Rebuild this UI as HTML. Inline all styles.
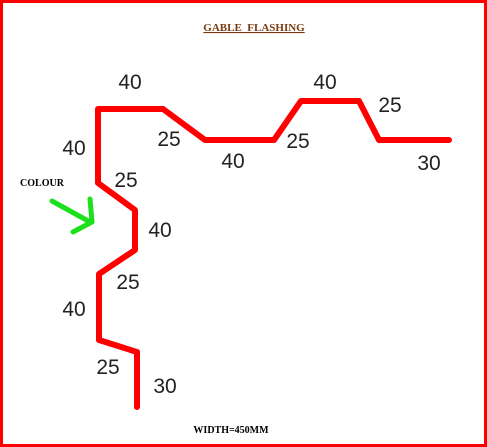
<!DOCTYPE html>
<html><head><meta charset="utf-8"><style>
html,body{margin:0;padding:0;background:#fff}
svg{display:block}
.d{font-family:"Liberation Sans",sans-serif;font-size:21px;fill:#222;text-anchor:middle;font-weight:300}
</style></head><body>
<svg width="487" height="447" viewBox="0 0 487 447">
<rect x="1.5" y="1.5" width="484" height="444" fill="#fff" stroke="#f00" stroke-width="3"/>
<text x="254" y="31" font-family="Liberation Serif,serif" font-weight="bold" font-size="11" fill="#7a3a10" text-anchor="middle" text-decoration="underline">GABLE&#160;&#160;FLASHING</text>
<text x="42" y="186" font-family="Liberation Serif,serif" font-weight="bold" font-size="10" fill="#000" text-anchor="middle">COLOUR</text>
<text x="231" y="433" font-family="Liberation Serif,serif" font-weight="bold" font-size="10" fill="#000" text-anchor="middle">WIDTH=450MM</text>
<path d="M52 201 L90 222 M90 199 L92 222 L73 232" fill="none" stroke="#1de01d" stroke-width="5" stroke-linecap="round" stroke-linejoin="round"/>
<g id="g"></g>
</svg>
<script>
const px=[137,137,99,99,135,135,98,98,163,205,274,301,359,379,449];
const py=[407,352,340,274,250,210,183,109,109,140,140,101,101,140,140];
const dims=["40","40","25","40","25","40","25","30","25","40","25","40","25","30"];
const dx=[130,74,169,233,298,325,390,429,126,160,128,74,108,165];
const dy=[89,155,146,168,148,89,112,170,187,237,289,316,374,393];
const g=document.getElementById('g');
const ns='http://www.w3.org/2000/svg';
const p=document.createElementNS(ns,'polyline');
p.setAttribute('points',px.map((x,i)=>x+','+py[i]).join(' '));
p.setAttribute('fill','none');p.setAttribute('stroke','#f00');p.setAttribute('stroke-width','6');
p.setAttribute('stroke-linejoin','round');p.setAttribute('stroke-linecap','round');


g.appendChild(p);
dims.forEach((t,i)=>{
const e=document.createElementNS(ns,'text');
e.setAttribute('x',dx[i]);e.setAttribute('y',dy[i]);e.setAttribute('class','d');
e.textContent=t;


g.appendChild(e);});
</script>
</body></html>
